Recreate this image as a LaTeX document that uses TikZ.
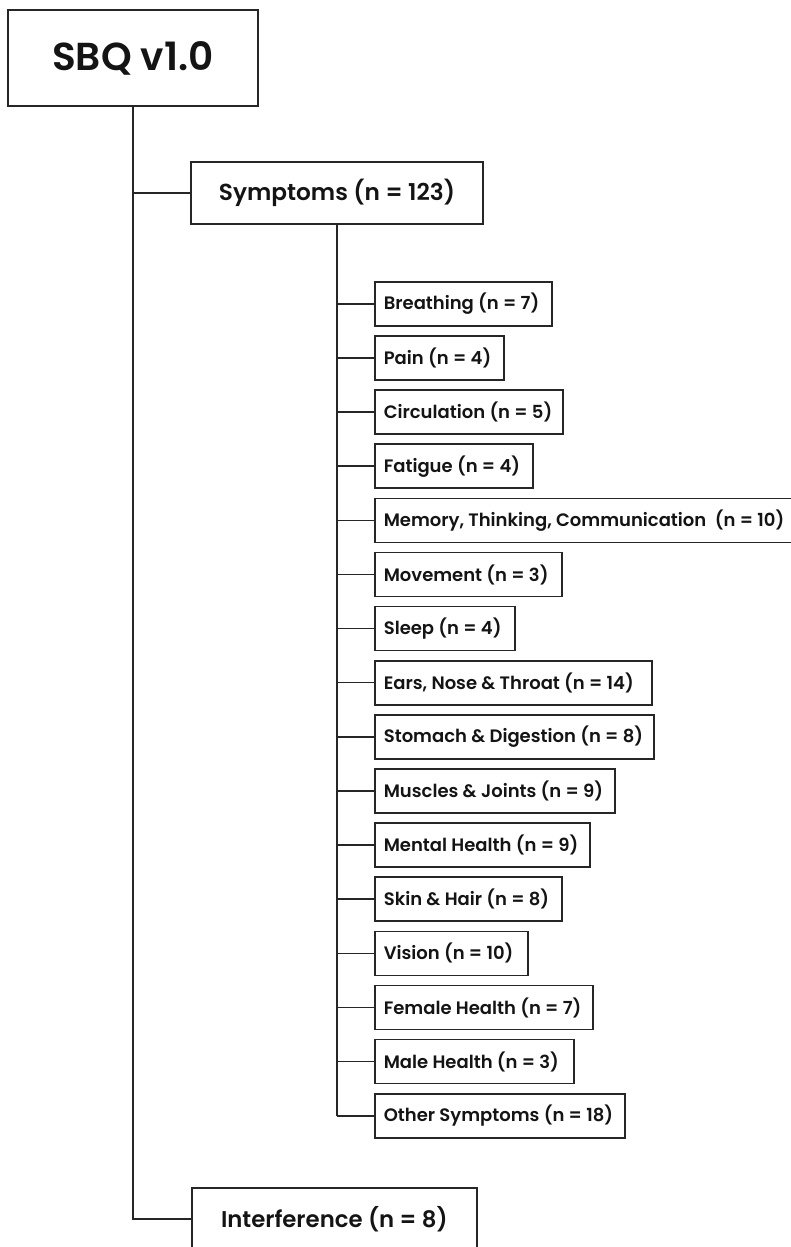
\documentclass[tikz,border=0pt]{standalone}
\usepackage{fontspec}
\setmainfont{Poppins SemiBold}
\begin{document}
\begin{tikzpicture}[x=1pt,y=-1pt,
  box/.style={draw=black!85, line width=1.6pt, fill=white, inner sep=0pt, text=black!92},
  childbox/.style={box, inner xsep=9pt, minimum height=44pt, anchor=north west, font=\fontsize{18}{21}\selectfont},
  conn/.style={draw=black!85, line width=1.5pt}]
\useasboundingbox (0,0) rectangle (790,1247);
\fill[white] (0,0) rectangle (790,1247);
% main boxes
\node[box, minimum width=250pt, minimum height=96pt, font=\fontsize{39}{45}\selectfont] (sbq) at (133,58) {SBQ v1.0};
\node[box, minimum width=292pt, minimum height=62pt, font=\fontsize{23.2}{27}\selectfont] (symptoms) at (337,193) {Symptoms (n = 123)};
\node[box, minimum width=285pt, minimum height=62pt, anchor=north west, font=\fontsize{22.8}{27}\selectfont] (interference) at (191,1187) {Interference (n = 8)};
% trunk connectors
\draw[conn] (sbq.south) |- (interference.west);
\draw[conn] (sbq.south |- symptoms.west) -- (symptoms.west);
% child boxes
\foreach \i/\r/\t in {
  0/551/{Breathing (n = 7)},
  1/503/{Pain (n = 4)},
  2/562/{Circulation (n = 5)},
  3/532/{Fatigue (n = 4)},
  4/810/{Memory, Thinking, Communication\ \ (n = 10)},
  5/561/{Movement (n = 3)},
  6/514/{Sleep (n = 4)},
  7/651/{Ears, Nose \& Throat (n = 14)},
  8/653/{Stomach \& Digestion (n = 8)},
  9/614/{Muscles \& Joints (n = 9)},
  10/589/{Mental Health (n = 9)},
  11/561/{Skin \& Hair (n = 8)},
  12/527/{Vision (n = 10)},
  13/592/{Female Health (n = 7)},
  14/573/{Male Health (n = 3)},
  15/624/{Other Symptoms (n = 18)}} {
  \pgfmathsetmacro\w{\r-374}
  \node[childbox, minimum width=\w pt] (c\i) at (374,{281+54.13*\i}) {\makebox[\dimexpr\w pt-18pt\relax][l]{\t}};
  \draw[conn] (symptoms.south |- c\i.west) -- (c\i.west);
}
\draw[conn] (symptoms.south) -- (symptoms.south |- c15.west);
\end{tikzpicture}
\end{document}
